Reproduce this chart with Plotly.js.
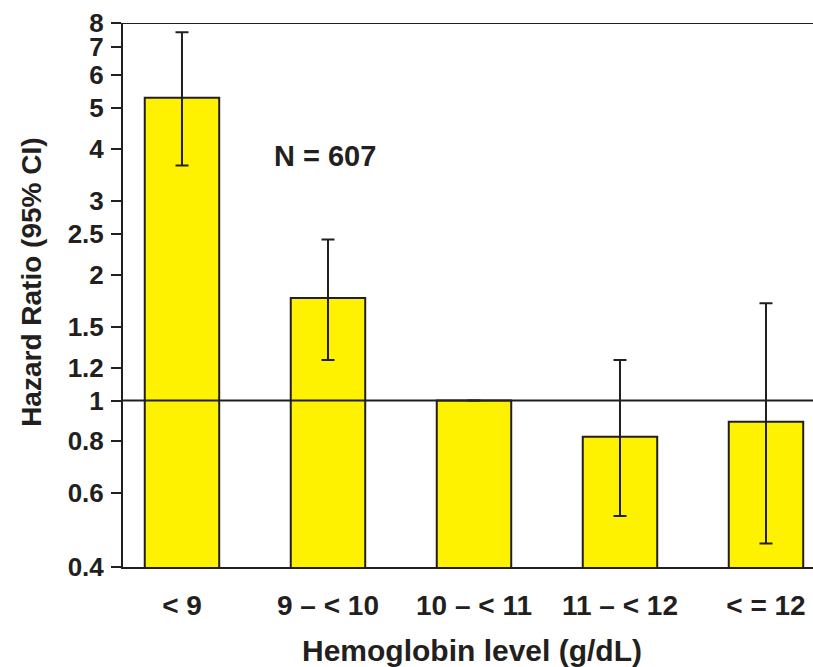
<!DOCTYPE html>
<html><head><meta charset="utf-8">
<script src="https://cdn.plot.ly/plotly-3.0.1.min.js"></script>
<style>html,body{margin:0;padding:0;background:#fff}#c{width:813px;height:667px}</style>
</head><body><div id="c"></div>
<script>
const categories = ["< 9", "9 – < 10", "10 – < 11", "11 – < 12", "< = 12"];
const hazardRatio = [5.3, 1.76, 1.0, 0.82, 0.89];
const ciUpper = [7.6, 2.43, 1.0, 1.25, 1.71];
const ciLower = [3.65, 1.25, 1.0, 0.53, 0.455];
const yTickVals = [0.4, 0.6, 0.8, 1, 1.2, 1.5, 2, 2.5, 3, 4, 5, 6, 7, 8];
const yTickText = ["0.4", "0.6", "0.8", "1", "1.2", "1.5", "2", "2.5", "3", "4", "5", "6", "7", "8"];
const xTitle = "Hemoglobin level (g/dL)";
const yTitle = "Hazard Ratio (95% CI)";
const note = "N = 607";

const dark = "#231f20";
const fam = "Liberation Sans, Arial, sans-serif";
const trace = {
  type: "bar",
  x: [0,1,2,3,4],
  y: hazardRatio,
  width: 0.51,
  marker: {color: "#fff200", line: {color: dark, width: 2}},
  error_y: {
    type: "data", symmetric: false,
    array: ciUpper.map((u,i)=>u-hazardRatio[i]),
    arrayminus: hazardRatio.map((v,i)=>v-ciLower[i]),
    color: dark, thickness: 2, width: 6.5
  },
  hoverinfo: "none"
};
const layout = {
  width: 813, height: 667,
  margin: {l: 123, r: 0, t: 23, b: 100},
  paper_bgcolor: "#fff", plot_bgcolor: "#fff",
  showlegend: false,
  font: {family: fam, color: dark},
  xaxis: {
    range: [-0.404, 4.322],
    tickvals: [0,1,2,3,4], ticktext: categories,
    ticks: "", showgrid: false, zeroline: false,
    showline: true, linecolor: dark, linewidth: 2,
    ticklabelstandoff: 12,
    tickfont: {family: fam, size: 28, color: dark, weight: "bold"},
    fixedrange: true
  },
  yaxis: {
    type: "log",
    range: [Math.log10(0.4), Math.log10(8)],
    tickvals: yTickVals, ticktext: yTickText,
    ticks: "outside", ticklen: 10, tickwidth: 2, tickcolor: dark,
    ticklabelstandoff: 2,
    showgrid: false, zeroline: false,
    showline: true, linecolor: dark, linewidth: 2,
    tickfont: {family: fam, size: 26, color: dark, weight: "bold"},
    fixedrange: true
  },
  shapes: [
    {type: "line", xref: "paper", yref: "y", x0: 0, x1: 1, y0: 1, y1: 1, line: {color: dark, width: 2}, layer: "above"},
    {type: "line", xref: "paper", yref: "y", x0: 0, x1: 1, y0: 8, y1: 8, line: {color: dark, width: 2}, layer: "above"}
  ],
  annotations: [
    {text: note, x: 0.98, y: Math.log10(3.85), xref: "x", yref: "y", showarrow: false,
     xanchor: "center", yanchor: "middle",
     font: {family: fam, size: 29, color: dark, weight: "bold"}},
    {text: xTitle, x: 0.506, y: -0.154, xref: "paper", yref: "paper", showarrow: false,
     xanchor: "center", yanchor: "middle",
     font: {family: fam, size: 30, color: dark, weight: "bold"}},
    {text: yTitle, x: -0.132, y: 0.524, xref: "paper", yref: "paper", showarrow: false,
     xanchor: "center", yanchor: "middle", textangle: -90,
     font: {family: fam, size: 28, color: dark, weight: "bold"}}
  ]
};
Plotly.newPlot("c", [trace], layout, {staticPlot: true, displayModeBar: false});
</script>
</body></html>
